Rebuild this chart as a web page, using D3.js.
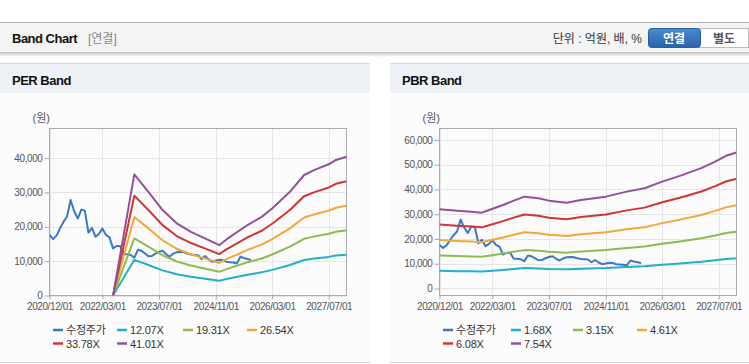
<!DOCTYPE html>
<html>
<head>
<meta charset="utf-8">
<script src="https://cdn.jsdelivr.net/npm/d3@7"></script>
<style>
  body { margin: 0; background: #fff; }
  svg text { font-family: "Liberation Sans", "Noto Sans CJK KR", Arial, sans-serif; }
</style>
</head>
<body>
<div id="chart"></div>
<script>
// adjusted share price (수정주가), monthly
const priceDates = ["2020-12","2021-01","2021-02","2021-03","2021-04","2021-05","2021-06","2021-07","2021-08","2021-09",
  "2021-10","2021-11","2021-12","2022-01","2022-02","2022-03","2022-04","2022-05","2022-06","2022-07",
  "2022-08","2022-09","2022-10","2022-11","2022-12","2023-01","2023-02","2023-03","2023-04","2023-05",
  "2023-06","2023-07","2023-08","2023-09","2023-10","2023-11","2023-12","2024-01","2024-02","2024-03",
  "2024-04","2024-05","2024-06","2024-07","2024-08","2024-09","2024-10","2024-11","2024-12","2025-01",
  "2025-02","2025-03","2025-04","2025-05","2025-06","2025-07","2025-08","2025-09"];
const priceValues = [17600,16400,17500,19500,21500,23000,27800,24600,22400,25000,
  24700,18300,19700,17100,18000,19500,17600,16900,13700,14400,
  14400,12000,12000,11800,11000,13300,13000,12300,11400,11500,
  12200,12700,13000,12000,11300,12200,12600,12700,12600,12200,
  11900,11800,11700,10600,11500,10500,9800,10100,10400,10300,
  9800,9700,9600,9300,11300,10900,10600,10300];

// EPS used for PER band
const epsDates = ["2022-06","2022-12","2023-04","2023-08","2023-12","2024-04","2024-09","2024-12","2025-02",
  "2025-08","2025-12","2026-03","2026-08","2026-12","2027-03","2027-07","2027-09","2027-12"];
const epsValues = [0,860,736,606,512,452,393,357,398,500,558,618,736,855,891,931,962,985];
const perMultiples = [12.07, 19.31, 26.54, 33.78, 41.01];

// BPS used for PBR band
const bpsDates = ["2020-12","2021-05","2021-09","2021-12","2022-02","2022-06","2022-09","2022-12","2023-04",
  "2023-07","2023-12","2024-04","2024-11","2025-05","2025-10","2026-03","2026-08","2027-02","2027-06","2027-09","2027-12"];
const bpsValues = [4243,4167,4114,4060,4204,4473,4704,4919,4833,4704,4597,4741,4919,5187,5370,5724,6030,6444,6798,7105,7282];
const pbrMultiples = [1.68, 3.15, 4.61, 6.08, 7.54];

const xTickLabels = ["2020/12/01","2022/03/01","2023/07/01","2024/11/01","2026/03/01","2027/07/01"];
const perYTicks = [0, 10000, 20000, 30000, 40000];
const pbrYTicks = [0, 10000, 20000, 30000, 40000, 50000, 60000];
const colors = ["#3b78c8", "#1fb1c7", "#8dbb4e", "#f3a73a", "#d13533", "#94509c"];

const W = 749, H = 364;
const parseM = d3.timeParse("%Y-%m");
const parseT = d3.timeParse("%Y/%m/%d");

const svg = d3.select("#chart").append("svg").attr("width", W).attr("height", H);

const defs = svg.append("defs");
const grad = defs.append("linearGradient").attr("id", "btn").attr("x1", 0).attr("y1", 0).attr("x2", 0).attr("y2", 1);
grad.append("stop").attr("offset", "0%").attr("stop-color", "#4a8ad0");
grad.append("stop").attr("offset", "100%").attr("stop-color", "#2b63a9");
const shadow = defs.append("linearGradient").attr("id", "shd").attr("x1", 0).attr("y1", 0).attr("x2", 0).attr("y2", 1);
shadow.append("stop").attr("offset", "0%").attr("stop-color", "#d0d0d0");
shadow.append("stop").attr("offset", "100%").attr("stop-color", "#fff");

// top header bar
svg.append("rect").attr("x", 0).attr("y", 22).attr("width", W).attr("height", 31).attr("fill", "#f4f4f4");
svg.append("line").attr("x1", 0).attr("x2", W).attr("y1", 22.5).attr("y2", 22.5).attr("stroke", "#b8b8b8");
svg.append("line").attr("x1", 0).attr("x2", W).attr("y1", 52.5).attr("y2", 52.5).attr("stroke", "#c4c4c4");
svg.append("rect").attr("x", 0).attr("y", 53).attr("width", W).attr("height", 4).attr("fill", "url(#shd)");

svg.append("text").attr("x", 12).attr("y", 43).text("Band Chart")
  .style("font-size", "13px").style("font-weight", "bold").style("letter-spacing", "-0.5px").attr("fill", "#111");
svg.append("text").attr("x", 88).attr("y", 43).text("[연결]")
  .style("font-size", "12px").attr("fill", "#888");
svg.append("text").attr("x", 642).attr("y", 43).attr("text-anchor", "end").text("단위 : 억원, 배, %")
  .style("font-size", "12px").attr("fill", "#333");

svg.append("rect").attr("x", 699.5).attr("y", 28.5).attr("width", 49).attr("height", 19)
  .attr("fill", "#fff").attr("stroke", "#bdbdbd");
svg.append("rect").attr("x", 648.5).attr("y", 28.5).attr("width", 52).attr("height", 19).attr("rx", 3)
  .attr("fill", "url(#btn)").attr("stroke", "#2b5f9e");
svg.append("text").attr("x", 674).attr("y", 42.5).attr("text-anchor", "middle").text("연결")
  .style("font-size", "12px").style("font-weight", "bold").attr("fill", "#fff");
svg.append("text").attr("x", 724).attr("y", 42.5).attr("text-anchor", "middle").text("별도")
  .style("font-size", "12px").style("font-weight", "bold").attr("fill", "#555");

function drawPanel(cfg) {
  const g = svg.append("g");
  // panel frame
  g.append("rect").attr("x", cfg.px).attr("y", 64).attr("width", cfg.pw).attr("height", 298).attr("fill", "#fcfcfc");
  g.append("rect").attr("x", cfg.px).attr("y", 64).attr("width", cfg.pw).attr("height", 29).attr("fill", "#eef1f6");
  g.append("line").attr("x1", cfg.px).attr("x2", cfg.px + cfg.pw).attr("y1", 63.5).attr("y2", 63.5).attr("stroke", "#d6d6d6");
  g.append("line").attr("x1", cfg.px).attr("x2", cfg.px + cfg.pw).attr("y1", 362.5).attr("y2", 362.5).attr("stroke", "#d6d6d6");
  g.append("text").attr("x", cfg.px + 12).attr("y", 85).text(cfg.title)
    .style("font-size", "13px").style("font-weight", "bold").style("letter-spacing", "-0.5px").attr("fill", "#111");

  const left = cfg.left, right = cfg.left + 297, top = 128.5, bottom = 295.5;
  const x = d3.scaleTime().domain([parseT("2020/12/01"), parseT("2027/12/01")]).range([left, right]);
  const y = d3.scaleLinear().domain(cfg.yDomain).range([bottom, top]);

  // grid
  g.append("g").selectAll("line").data(cfg.yTicks).join("line")
    .attr("x1", left).attr("x2", right)
    .attr("y1", d => Math.round(y(d)) + 0.5).attr("y2", d => Math.round(y(d)) + 0.5)
    .attr("stroke", "#e6e6e6");
  g.append("g").selectAll("line").data(xTickLabels).join("line")
    .attr("x1", d => Math.round(x(parseT(d))) + 0.5).attr("x2", d => Math.round(x(parseT(d))) + 0.5)
    .attr("y1", top).attr("y2", bottom)
    .attr("stroke", "#e6e6e6");

  // axes
  const xAxis = d3.axisBottom(x).tickValues(xTickLabels.map(parseT)).tickFormat(d3.timeFormat("%Y/%m/%d"))
    .tickSize(4).tickSizeOuter(0);
  const yAxis = d3.axisLeft(y).tickValues(cfg.yTicks).tickFormat(d3.format(",")).tickSize(5).tickSizeOuter(0);
  const ax = g.append("g").attr("transform", `translate(0,${bottom})`).call(xAxis);
  const ay = g.append("g").attr("transform", `translate(${left},0)`).call(yAxis);
  [ax, ay].forEach(a => {
    a.select(".domain").remove();
    a.selectAll("line").attr("stroke", "#aaa");
    a.selectAll("text").attr("fill", "#555").style("font-size", "10px").style("letter-spacing", "-0.4px")
      .style("font-family", "'Liberation Sans', Arial, sans-serif");
  });
  ax.selectAll("text").attr("dy", "0.9em").attr("y", 5);
  ay.selectAll("text").attr("x", -7);

  g.append("rect").attr("x", left).attr("y", top).attr("width", right - left).attr("height", bottom - top)
    .attr("fill", "none").attr("stroke", "#aaa");

  g.append("text").attr("x", cfg.left - 17).attr("y", 122).text("(원)")
    .style("font-size", "11px").attr("fill", "#555");

  const clipId = "clip-" + cfg.key;
  defs.append("clipPath").attr("id", clipId).append("rect")
    .attr("x", left).attr("y", top).attr("width", right - left).attr("height", bottom - top);
  const plot = g.append("g").attr("clip-path", `url(#${clipId})`);

  const line = d3.line().x(d => x(d.date)).y(d => y(d.value));

  const price = priceDates.map((d, i) => ({date: parseM(d), value: priceValues[i]}));
  plot.append("path").datum(price).attr("d", line)
    .attr("fill", "none").attr("stroke", colors[0]).attr("stroke-width", 2).attr("stroke-linejoin", "round");

  cfg.multiples.forEach((m, k) => {
    const band = cfg.baseDates.map((d, i) => ({date: parseM(d), value: cfg.baseValues[i] * m}));
    plot.append("path").datum(band).attr("d", line)
      .attr("fill", "none").attr("stroke", colors[k + 1]).attr("stroke-width", 2).attr("stroke-linejoin", "round");
  });

  // legend
  const names = ["수정주가"].concat(cfg.multiples.map(m => m.toFixed(2) + "X"));
  names.forEach((n, i) => {
    const col = i < 4 ? i : i - 4;
    const lx = cfg.legendCols[col];
    const ly = i < 4 ? 330 : 343.5;
    g.append("line").attr("x1", lx).attr("x2", lx + 10).attr("y1", ly).attr("y2", ly)
      .attr("stroke", colors[i]).attr("stroke-width", 2.5);
    g.append("text").attr("x", lx + 13).attr("y", ly + 4).text(n)
      .style("font-size", "11px").style("letter-spacing", "-0.2px").attr("fill", "#333");
  });
}

drawPanel({
  key: "per", title: "PER Band", px: 0, pw: 370, left: 49.5,
  yDomain: [0, 48600], yTicks: perYTicks,
  baseDates: epsDates, baseValues: epsValues, multiples: perMultiples,
  legendCols: [53, 117, 183, 247]
});
drawPanel({
  key: "pbr", title: "PBR Band", px: 390, pw: 359, left: 439.5,
  yDomain: [-2830, 64600], yTicks: pbrYTicks,
  baseDates: bpsDates, baseValues: bpsValues, multiples: pbrMultiples,
  legendCols: [443, 511, 573, 637]
});
</script>
</body>
</html>
